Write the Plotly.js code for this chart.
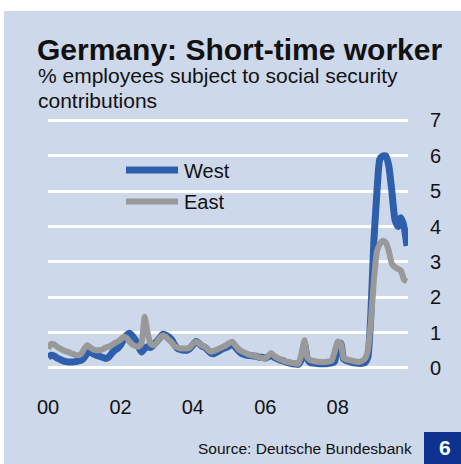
<!DOCTYPE html>
<html>
<head>
<meta charset="utf-8">
<script src="https://cdn.plot.ly/plotly-3.0.1.min.js"></script>
<style>
html,body{margin:0;padding:0;background:#fff;}
#chart{width:461px;height:464px;}
</style>
</head>
<body>
<div id="chart"></div>
<script>
// Monthly data, Jan 2000 - Dec 2009 (% of employees subject to social security contributions)
const startYear = 2000;
const west = [
  0.30, 0.36, 0.34, 0.28, 0.24, 0.20, 0.18, 0.17, 0.17, 0.18, 0.20, 0.22,
  0.30, 0.42, 0.45, 0.40, 0.36, 0.33, 0.30, 0.27, 0.30, 0.40, 0.50, 0.55,
  0.65, 0.80, 0.92, 0.98, 0.90, 0.78, 0.60, 0.45, 0.55, 0.60, 0.58, 0.65,
  0.75, 0.85, 0.95, 0.93, 0.88, 0.80, 0.65, 0.55, 0.52, 0.50, 0.50, 0.55,
  0.65, 0.75, 0.70, 0.62, 0.58, 0.50, 0.42, 0.40, 0.45, 0.50, 0.55, 0.58,
  0.62, 0.68, 0.60, 0.50, 0.42, 0.38, 0.36, 0.35, 0.34, 0.33, 0.30, 0.30,
  0.28, 0.32, 0.35, 0.30, 0.26, 0.22, 0.20, 0.16, 0.14, 0.12, 0.11, 0.10,
  0.25, 0.68, 0.25, 0.15, 0.14, 0.13, 0.12, 0.12, 0.12, 0.13, 0.14, 0.18,
  0.60, 0.70, 0.25, 0.20, 0.18, 0.15, 0.14, 0.13, 0.13, 0.15, 0.30, 1.50,
  3.60, 5.00, 5.90, 6.00, 6.00, 5.70, 5.00, 4.20, 4.00, 4.25, 4.00, 3.45
];
const east = [
  0.55, 0.68, 0.66, 0.60, 0.55, 0.50, 0.47, 0.44, 0.40, 0.37, 0.36, 0.40,
  0.55, 0.64, 0.58, 0.52, 0.50, 0.50, 0.52, 0.57, 0.60, 0.64, 0.70, 0.74,
  0.80, 0.88, 0.85, 0.75, 0.66, 0.62, 0.60, 0.70, 1.45, 1.00, 0.68, 0.64,
  0.72, 0.85, 0.92, 0.88, 0.80, 0.72, 0.62, 0.58, 0.55, 0.55, 0.55, 0.58,
  0.68, 0.74, 0.70, 0.64, 0.60, 0.52, 0.46, 0.48, 0.52, 0.56, 0.60, 0.64,
  0.70, 0.74, 0.65, 0.55, 0.48, 0.44, 0.40, 0.37, 0.35, 0.33, 0.30, 0.28,
  0.27, 0.35, 0.42, 0.34, 0.28, 0.24, 0.21, 0.18, 0.16, 0.14, 0.13, 0.12,
  0.40, 0.78, 0.30, 0.22, 0.20, 0.18, 0.17, 0.17, 0.17, 0.18, 0.20, 0.45,
  0.75, 0.70, 0.28, 0.24, 0.22, 0.20, 0.18, 0.17, 0.20, 0.26, 0.50, 1.30,
  2.50, 3.30, 3.50, 3.60, 3.55, 3.30, 2.95, 2.85, 2.80, 2.75, 2.50, 2.45
];
const seriesNames = ["West", "East"];
const yTicks = [0, 1, 2, 3, 4, 5, 6, 7];

const months = west.map((_, i) => {
  const y = startYear + Math.floor(i / 12);
  const m = (i % 12) + 1;
  return y + "-" + (m < 10 ? "0" + m : m) + "-01";
});

const BLUE = "#2e5fac", GREY = "#999999", PANEL = "#cdd8ea";
const FONT = "Liberation Sans, Arial, sans-serif";

// pixel -> paper helpers (plot area: x 48..408, y 118..375)
const L = 48, R = 53, T = 118, B = 89, W = 461, H = 464;
const PW = W - L - R, PH = H - T - B;
const px = x => (x - L) / PW;
const py = y => (H - B - y) / PH;

const traces = [
  {x: months, y: west, name: seriesNames[0], type: "scatter", mode: "lines",
   line: {color: BLUE, width: 7, shape: "spline", smoothing: 0.5}, showlegend: false, hoverinfo: "skip"},
  {x: months, y: east, name: seriesNames[1], type: "scatter", mode: "lines",
   line: {color: GREY, width: 6, shape: "spline", smoothing: 0.5}, showlegend: false, hoverinfo: "skip"}
];

const layout = {
  width: W, height: H,
  margin: {l: L, r: R, t: T, b: B, pad: 0},
  paper_bgcolor: "#ffffff",
  plot_bgcolor: "rgba(0,0,0,0)",
  font: {family: FONT, color: "#111111", size: 19},
  showlegend: false,
  xaxis: {
    type: "date",
    range: ["1999-12-31", "2009-12-11"],
    tick0: "2000-01-01", dtick: "M24", tickformat: "%y",
    showgrid: false, zeroline: false, showline: false, ticks: "",
    tickfont: {size: 20, family: FONT, color: "#111"},
    ticklabelstandoff: 18
  },
  yaxis: {
    side: "right",
    range: [-0.2, 7.07],
    tickvals: yTicks,
    showgrid: true, gridcolor: "#ffffff", gridwidth: 3,
    zeroline: false, showline: false, ticks: "",
    tickfont: {size: 20, family: FONT, color: "#111"},
    ticklabelstandoff: 21
  },
  shapes: [
    {type: "rect", xref: "paper", yref: "paper", x0: px(4), x1: px(461), y0: py(11), y1: py(464),
     fillcolor: PANEL, line: {width: 0}, layer: "below"},
    {type: "rect", xref: "paper", yref: "paper", x0: px(424), x1: px(461), y0: py(432), y1: py(464),
     fillcolor: "#0d3290", line: {width: 0}, layer: "above"},
    {type: "line", xref: "paper", yref: "paper", x0: px(126), x1: px(178), y0: py(170), y1: py(170),
     line: {color: BLUE, width: 7}},
    {type: "line", xref: "paper", yref: "paper", x0: px(126), x1: px(178), y0: py(201.5), y1: py(201.5),
     line: {color: GREY, width: 6}}
  ],
  annotations: [
    {text: "<b>Germany: Short-time worker</b>", xref: "paper", yref: "paper", x: px(35), y: py(49),
     xanchor: "left", yanchor: "middle", showarrow: false, font: {size: 30, family: FONT, color: "#111"}},
    {text: "% employees subject to social security", xref: "paper", yref: "paper", x: px(36), y: py(76),
     xanchor: "left", yanchor: "middle", showarrow: false, font: {size: 21, family: FONT, color: "#111"}},
    {text: "contributions", xref: "paper", yref: "paper", x: px(36), y: py(100),
     xanchor: "left", yanchor: "middle", showarrow: false, font: {size: 21, family: FONT, color: "#111"}},
    {text: seriesNames[0], xref: "paper", yref: "paper", x: px(182), y: py(171),
     xanchor: "left", yanchor: "middle", showarrow: false, font: {size: 20, family: FONT, color: "#111"}},
    {text: seriesNames[1], xref: "paper", yref: "paper", x: px(182), y: py(202),
     xanchor: "left", yanchor: "middle", showarrow: false, font: {size: 20, family: FONT, color: "#111"}},
    {text: "Source: Deutsche Bundesbank", xref: "paper", yref: "paper", x: px(414), y: py(449),
     xanchor: "right", yanchor: "middle", showarrow: false, font: {size: 15.5, family: FONT, color: "#111"}},
    {text: "<b>6</b>", xref: "paper", yref: "paper", x: px(445), y: py(448),
     xanchor: "center", yanchor: "middle", showarrow: false, font: {size: 21, family: FONT, color: "#ffffff"}}
  ]
};

Plotly.newPlot("chart", traces, layout, {staticPlot: true, displayModeBar: false});
</script>
</body>
</html>
